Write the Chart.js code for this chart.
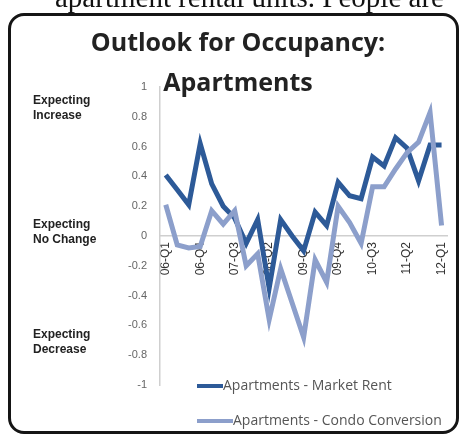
<!DOCTYPE html>
<html>
<head>
<meta charset="utf-8">
<script src="https://cdn.jsdelivr.net/npm/chart.js@4/dist/chart.umd.min.js"></script>
<style>
  body { margin: 0; background: #fff; }
  #wrap { position: relative; width: 462px; height: 438px; overflow: hidden; }
  #frame { position: absolute; left: 8px; top: 13px; width: 451px; height: 421px; box-sizing: border-box;
    border: 3px solid #151515; border-radius: 16px; }
  #occChart { position: absolute; left: 0; top: 0; }
  .txt { position: absolute; white-space: nowrap; }
  #above { left: 55px; top: -17px; font: 29px/29px "Liberation Serif", serif; color: #111; }
  .title { left: 0; width: 476px; text-align: center; font: bold 25px/25px "Open Sans", sans-serif; color: #222; }
  .side { left: 33px; font: bold 12px/15px "Liberation Sans", sans-serif; color: #222; }
  .leg { left: 197px; font: 14px/16px "Open Sans", sans-serif; color: #555; }
  .leg span { display: inline-block; height: 4px; vertical-align: middle; }
</style>
</head>
<body>
<div id="wrap">
  <div id="frame"></div>
  <canvas id="occChart" width="462" height="438"></canvas>
  <div class="txt" id="above">apartment rental units. People are</div>
  <div class="txt title" style="top:29px">Outlook for Occupancy:</div>
  <div class="txt title" style="top:69px">Apartments</div>
  <div class="txt side" style="top:93px">Expecting<br>Increase</div>
  <div class="txt side" style="top:217px">Expecting<br>No Change</div>
  <div class="txt side" style="top:327px">Expecting<br>Decrease</div>
  <div class="txt leg" id="leg1" style="top:377px"></div>
  <div class="txt leg" id="leg2" style="top:412px"></div>
</div>
<script>
const quarters = [
  "06-Q1", "06-Q2", "06-Q3", "06-Q4", "07-Q1", "07-Q2", "07-Q3", "07-Q4",
  "08-Q1", "08-Q2", "08-Q3", "08-Q4", "09-Q1", "09-Q2", "09-Q3", "09-Q4",
  "10-Q1", "10-Q2", "10-Q3", "10-Q4", "11-Q1", "11-Q2", "11-Q3", "11-Q4", "12-Q1"
];
const seriesNames = ["Apartments - Market Rent", "Apartments - Condo Conversion"];
const marketRent = [0.41, 0.31, 0.21, 0.62, 0.35, 0.2, 0.12, -0.05, 0.11, -0.35, 0.11, 0.0, -0.1,
  0.16, 0.07, 0.36, 0.27, 0.25, 0.53, 0.47, 0.66, 0.59, 0.37, 0.61, 0.61];
const condoConversion = [0.21, -0.06, -0.08, -0.07, 0.17, 0.08, 0.17, -0.2, -0.12, -0.56, -0.22, -0.45, -0.68,
  -0.16, -0.31, 0.2, 0.09, -0.05, 0.33, 0.33, 0.45, 0.56, 0.63, 0.83, 0.07];
const yTicks = [1, 0.8, 0.6, 0.4, 0.2, 0, -0.2, -0.4, -0.6, -0.8, -1];
const colors = ["#2d5a98", "#8c9fcb"];
const legendLine = [26, 36];

function renderLegend() {
  ["leg1", "leg2"].forEach((id, i) => {
    document.getElementById(id).innerHTML =
      `<span style="background:${colors[i]};width:${legendLine[i]}px"></span>${seriesNames[i]}`;
  });
}

function renderChart() {
  const ctx = document.getElementById('occChart').getContext('2d');
  window.occChart = new Chart(ctx, {
    type: 'line',
    data: {
      labels: quarters,
      datasets: [
        { label: seriesNames[0], data: marketRent, borderColor: colors[0], borderWidth: 5, order: 2 },
        { label: seriesNames[1], data: condoConversion, borderColor: colors[1], borderWidth: 5, order: 1 }
      ]
    },
    options: {
      responsive: false,
      animation: false,
      layout: { padding: { left: 0, right: 2, top: 87, bottom: 53 } },
      elements: { point: { radius: 0 }, line: { tension: 0, borderJoinStyle: 'miter' } },
      scales: {
        x: {
          position: { y: 0 },
          offset: true,
          grid: { display: false, drawTicks: false },
          border: { display: true, color: '#cfcfcf', width: 1.5 },
          ticks: {
            autoSkip: false, minRotation: 90, maxRotation: 90, padding: 6,
            color: '#333', font: { family: 'Liberation Sans', size: 12 },
            callback: (v, i) => i % 3 === 0 ? quarters[i] : ''
          }
        },
        y: {
          min: -1, max: 1,
          afterFit: s => { s.width = 160; },
          afterBuildTicks: s => { s.ticks = yTicks.map(v => ({ value: v })); },
          grid: { display: false, drawTicks: false },
          border: { display: true, color: '#cfcfcf', width: 1.5 },
          ticks: {
            padding: 13, color: '#666', font: { family: 'Liberation Sans', size: 11 },
            callback: v => String(v)
          }
        }
      },
      plugins: { legend: { display: false }, title: { display: false }, tooltip: { enabled: false } }
    }
  });
}

renderLegend();
renderChart();
</script>
</body>
</html>
